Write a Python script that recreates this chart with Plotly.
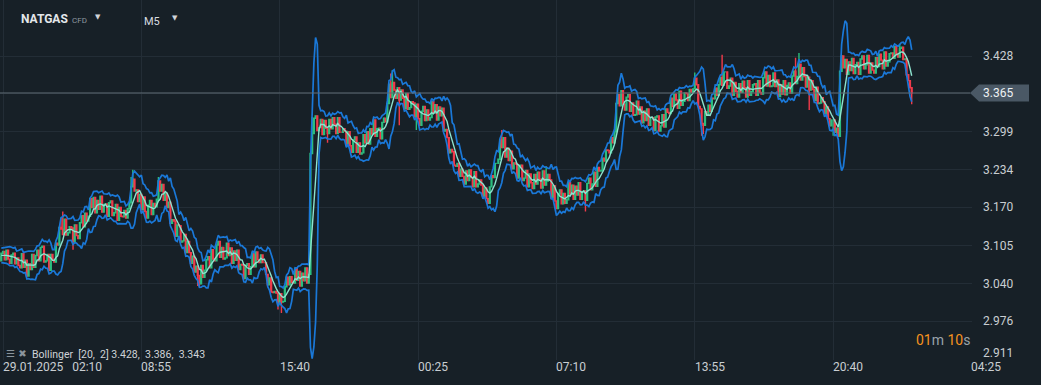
import numpy as np
import pandas as pd
import plotly.graph_objects as go

# ---------------- data ----------------
START_INDEX = -6  # first bar index (bars before 0 only warm up the bands)

# closes in thousandths (3094 -> 3.094); open of each bar = previous close
CLOSE = [
    3094, 3083, 3096, 3086, 3079, 3092,
    3095, 3081, 3097, 3082, 3075, 3089, 3092, 3074, 3084, 3071,
    3067, 3091, 3068, 3080, 3053, 3074, 3064, 3090, 3068, 3088,
    3097, 3079, 3102, 3104, 3077, 3079, 3090, 3063, 3090, 3080,
    3077, 3109, 3106, 3136, 3133, 3124, 3150, 3123, 3127, 3137,
    3135, 3112, 3140, 3122, 3117, 3144, 3156, 3137, 3160, 3147,
    3155, 3185, 3170, 3187, 3161, 3182, 3167, 3189, 3162, 3175,
    3176, 3155, 3178, 3181, 3156, 3161, 3175, 3148, 3170, 3155,
    3154, 3165, 3152, 3168, 3178, 3205, 3218, 3198, 3200, 3180,
    3192, 3166, 3188, 3163, 3152, 3174, 3182, 3158, 3177, 3171,
    3184, 3215, 3198, 3209, 3182, 3194, 3170, 3179, 3143, 3149,
    3147, 3121, 3140, 3139, 3111, 3113, 3124, 3093, 3112, 3093,
    3075, 3087, 3060, 3070, 3054, 3040, 3071, 3051, 3063, 3081,
    3086, 3067, 3098, 3082, 3079, 3106, 3112, 3085, 3102, 3082,
    3084, 3109, 3088, 3101, 3075, 3096, 3080, 3097, 3064, 3073,
    3072, 3049, 3071, 3074, 3056, 3069, 3092, 3069, 3094, 3081,
    3076, 3089, 3076, 3076, 3056, 3038, 3050, 3026, 3025, 3027,
    3024, 3007, 3023, 3009, 3010, 3035, 3051, 3038, 3052, 3042,
    3041, 3066, 3046, 3061, 3036, 3058, 3045, 3067, 3041, 3056,
    3262, 3296, 3322, 3326, 3301, 3306, 3320, 3294, 3318, 3305,
    3296, 3320, 3304, 3323, 3312, 3296, 3323, 3298, 3298, 3304,
    3300, 3276, 3299, 3275, 3264, 3285, 3290, 3264, 3280, 3261,
    3263, 3294, 3280, 3299, 3278, 3304, 3295, 3319, 3291, 3304,
    3305, 3287, 3315, 3322, 3316, 3347, 3380, 3357, 3383, 3370,
    3356, 3374, 3353, 3370, 3356, 3338, 3364, 3337, 3340, 3350,
    3348, 3324, 3346, 3321, 3310, 3334, 3342, 3318, 3336, 3319,
    3323, 3350, 3331, 3345, 3319, 3341, 3326, 3339, 3300, 3303,
    3289, 3263, 3269, 3265, 3242, 3240, 3245, 3223, 3235, 3223,
    3210, 3232, 3216, 3234, 3221, 3205, 3231, 3205, 3210, 3217,
    3208, 3189, 3203, 3185, 3177, 3205, 3224, 3221, 3245, 3245,
    3252, 3285, 3272, 3289, 3256, 3271, 3250, 3266, 3236, 3246,
    3244, 3220, 3241, 3242, 3216, 3220, 3233, 3205, 3227, 3212,
    3202, 3226, 3210, 3230, 3218, 3203, 3232, 3208, 3215, 3226,
    3217, 3186, 3207, 3181, 3168, 3193, 3200, 3176, 3194, 3177,
    3183, 3212, 3193, 3208, 3184, 3206, 3191, 3212, 3184, 3197,
    3198, 3182, 3211, 3220, 3200, 3210, 3230, 3206, 3238, 3232,
    3233, 3254, 3249, 3268, 3267, 3263, 3289, 3280, 3299, 3347,
    3362, 3343, 3369, 3346, 3336, 3358, 3362, 3334, 3348, 3327,
    3328, 3351, 3329, 3341, 3314, 3334, 3318, 3338, 3310, 3323,
    3323, 3301, 3324, 3326, 3300, 3309, 3328, 3307, 3338, 3332,
    3330, 3356, 3342, 3363, 3353, 3339, 3368, 3344, 3351, 3365,
    3364, 3352, 3371, 3366, 3372, 3390, 3379, 3342, 3338, 3313,
    3310, 3333, 3327, 3344, 3334, 3356, 3355, 3373, 3361, 3379,
    3391, 3378, 3401, 3401, 3373, 3377, 3390, 3361, 3383, 3368,
    3358, 3381, 3366, 3385, 3374, 3358, 3386, 3361, 3367, 3379,
    3381, 3361, 3386, 3366, 3363, 3391, 3401, 3377, 3395, 3376,
    3377, 3399, 3376, 3387, 3359, 3379, 3363, 3386, 3362, 3378,
    3382, 3365, 3394, 3402, 3381, 3393, 3414, 3387, 3408, 3393,
    3375, 3392, 3370, 3386, 3371, 3352, 3375, 3347, 3348, 3357,
    3350, 3330, 3341, 3321, 3309, 3319, 3319, 3298, 3305, 3291,
    3402, 3428, 3408, 3422, 3397, 3418, 3403, 3424, 3398, 3413,
    3417, 3397, 3423, 3428, 3406, 3413, 3429, 3399, 3416, 3404,
    3399, 3425, 3410, 3431, 3421, 3406, 3435, 3411, 3418, 3432,
    3433, 3424, 3444, 3431, 3426, 3441, 3443, 3422, 3423, 3396,
    3386, 3374, 3365,
]

# long wicks visible in the picture (bar index -> price)
WICK_HIGHS = {34: 3.152, 35: 3.163, 75: 3.222, 76: 3.234, 91: 3.222, 92: 3.215,
              181: 3.324, 227: 3.398, 228: 3.404, 292: 3.302, 318: 3.240, 405: 3.400,
              421: 3.430, 464: 3.425, 466: 3.433, 523: 3.446, 525: 3.448}
WICK_LOWS = {41: 3.098, 114: 3.036, 115: 3.034, 161: 2.996, 163: 2.990,
             190: 3.280, 232: 3.310, 242: 3.302, 341: 3.163, 409: 3.292,
             410: 3.295, 472: 3.336, 486: 3.292, 507: 3.398, 532: 3.346}

X_TICK_POS = [0, 81, 162, 243, 324, 405, 486, 567]
X_TICK_TEXT = ["29.01.2025\u00a0\u00a0 02:10", "08:55", "15:40", "00:25",
               "07:10", "13:55", "20:40", "04:25"]
Y_GRID = [2.911, 2.976, 3.040, 3.105, 3.170, 3.234, 3.299, 3.364, 3.428]
Y_LABELS = ["2.911", "2.976", "3.040", "3.105", "3.170", "3.234", "3.299", "", "3.428"]
LAST_PRICE = 3.365
BB_PERIOD = 6
BB_MULT = 2
BB_LEGEND = "Bollinger\u00a0\u00a0[20,\u00a0 2] 3.428,\u00a0 3.386,\u00a0 3.343"
SYMBOL = "NATGAS"
TIMEFRAME = "M5"

# ---------------- styling ----------------
BG = "#172027"
GRID = "#232d36"
UP = "#2bbd7e"
DOWN = "#f03a4a"
BAND = "#1a78d8"
MID = "#8de3cf"
TXT = "#c9ced2"
FONT = "Roboto, Arial, sans-serif"

close = np.array(CLOSE, dtype=float) / 1000.0
idx = np.arange(START_INDEX, START_INDEX + len(close))
open_ = np.r_[close[0], close[:-1]]
high = np.maximum(open_, close)
low = np.minimum(open_, close)
for k, v in WICK_HIGHS.items():
    j = k - START_INDEX
    if 0 <= j < len(high):
        high[j] = max(high[j], v)
for k, v in WICK_LOWS.items():
    j = k - START_INDEX
    if 0 <= j < len(low):
        low[j] = min(low[j], v)

s = pd.Series(close)
mid = s.rolling(BB_PERIOD).mean()
sd = s.rolling(BB_PERIOD).std(ddof=0)
upper = mid + BB_MULT * sd
lower = mid - BB_MULT * sd

fig = go.Figure()
fig.add_trace(go.Candlestick(
    x=idx, open=open_, high=high, low=low, close=close,
    increasing=dict(line=dict(color=UP, width=1.4), fillcolor=UP),
    decreasing=dict(line=dict(color=DOWN, width=1.4), fillcolor=DOWN),
    whiskerwidth=0, hoverinfo="skip", showlegend=False,
))
for series, col, w in ((upper, BAND, 1.7), (lower, BAND, 1.7), (mid, MID, 1.4)):
    fig.add_trace(go.Scatter(x=idx, y=series, mode="lines",
                             line=dict(color=col, width=w),
                             hoverinfo="skip", showlegend=False))

PLOT_W = 972.0  # plot area width in px
X_RANGE = [-1.755, 567.3]
Y_RANGE = [2.9101, 3.5234]

fig.update_layout(
    width=1041, height=385,
    margin=dict(l=0, r=69, t=0, b=25),
    paper_bgcolor=BG, plot_bgcolor=BG,
    font=dict(family=FONT, color=TXT, size=12),
    showlegend=False,
    xaxis=dict(range=X_RANGE, tickvals=X_TICK_POS, showticklabels=False,
               showgrid=True, gridcolor=GRID, gridwidth=1, zeroline=False,
               showline=False, rangeslider=dict(visible=False), fixedrange=True),
    yaxis=dict(range=Y_RANGE, tickvals=Y_GRID, showticklabels=False, side="right",
               showgrid=True, gridcolor=GRID, gridwidth=1, zeroline=False,
               showline=False, fixedrange=True),
)

shapes = []
# header band hides the top of the gridlines
shapes.append(dict(type="rect", xref="paper", yref="paper", x0=0, x1=1,
                   y0=1 - 17 / 360.0, y1=1, fillcolor=BG, line=dict(width=0),
                   layer="between"))
# current price line
shapes.append(dict(type="line", xref="paper", yref="y", x0=0, x1=970 / PLOT_W,
                   y0=LAST_PRICE, y1=LAST_PRICE, line=dict(color="#5f6a74", width=1)))
# price tag
ppx = 1.0 / PLOT_W
top_v = LAST_PRICE + 8.5 / 587.0
bot_v = LAST_PRICE - 8.5 / 587.0
shapes.append(dict(type="path", xref="paper", yref="y",
                   path=(f"M {970*ppx},{LAST_PRICE} L {979*ppx},{top_v} L {1029*ppx},{top_v} "
                         f"L {1029*ppx},{bot_v} L {979*ppx},{bot_v} Z"),
                   fillcolor="#4a5865", line=dict(width=0)))
fig.update_layout(shapes=shapes)

ann = []
# y labels
for v, t in zip(Y_GRID, Y_LABELS):
    if not t:
        continue
    ann.append(dict(xref="paper", yref="y", x=981 * ppx, y=v, text=t, showarrow=False,
                    xanchor="left", yanchor="middle", yshift=6 if v == Y_GRID[0] else 0,
                    font=dict(size=12, color=TXT, family=FONT)))
ann.append(dict(xref="paper", yref="y", x=981 * ppx, y=LAST_PRICE, text=f"{LAST_PRICE:.3f}",
                showarrow=False, xanchor="left", yanchor="middle",
                font=dict(size=12, color="#eef1f3", family=FONT)))
# x labels
for p, t in zip(X_TICK_POS, X_TICK_TEXT):
    ann.append(dict(xref="x", yref="paper", x=p, y=-7 / 360.0, text=t, showarrow=False,
                    xanchor="left", yanchor="middle", xshift=-2,
                    font=dict(size=12, color=TXT, family=FONT)))
# header
ann.append(dict(xref="paper", yref="paper", x=19 * ppx, y=1 - 19 / 360.0,
                text=f"<b>{SYMBOL}</b>", showarrow=False, xanchor="left", yanchor="middle",
                font=dict(size=12, color="#e4e7ea", family=FONT)))
ann.append(dict(xref="paper", yref="paper", x=70 * ppx, y=1 - 20 / 360.0,
                text="CFD", showarrow=False, xanchor="left", yanchor="middle",
                font=dict(size=8, color="#8e98a0", family=FONT)))
ann.append(dict(xref="paper", yref="paper", x=93 * ppx, y=1 - 17 / 360.0,
                text="\u25bc", showarrow=False, xanchor="left", yanchor="middle",
                font=dict(size=7, color="#d0d4d8", family="DejaVu Sans")))
ann.append(dict(xref="paper", yref="paper", x=142 * ppx, y=1 - 21 / 360.0,
                text=TIMEFRAME, showarrow=False, xanchor="left", yanchor="middle",
                font=dict(size=11, color="#d8dce0", family=FONT)))
ann.append(dict(xref="paper", yref="paper", x=170 * ppx, y=1 - 18 / 360.0,
                text="\u25bc", showarrow=False, xanchor="left", yanchor="middle",
                font=dict(size=7, color="#d0d4d8", family="DejaVu Sans")))
# indicator legend
ann.append(dict(xref="paper", yref="paper", x=4 * ppx, y=1 - 353 / 360.0,
                text="\u2630 \u2716", showarrow=False, xanchor="left", yanchor="middle",
                font=dict(size=10, color="#8a949c", family="DejaVu Sans")))
ann.append(dict(xref="paper", yref="paper", x=30 * ppx, y=1 - 354 / 360.0,
                text=BB_LEGEND, showarrow=False, xanchor="left", yanchor="middle",
                font=dict(size=10.5, color="#cfd3d7", family=FONT)))
# countdown
ann.append(dict(xref="paper", yref="paper", x=1.0, y=1 - 340 / 360.0,
                text=("<span style='color:#f5921e'>01</span>m "
                      "<span style='color:#f5921e'>10</span>s"),
                showarrow=False, xanchor="right", yanchor="middle",
                font=dict(size=14, color="#9aa3aa", family=FONT)))
fig.update_layout(annotations=ann)

PAGE_JS = ("document.documentElement.style.margin='0';"
           "document.body.style.margin='0';document.body.style.padding='0';"
           f"document.body.style.background='{BG}';"
           f"document.documentElement.style.background='{BG}';")
fig.write_html("out.html", post_script=PAGE_JS, config={"displayModeBar": False})
